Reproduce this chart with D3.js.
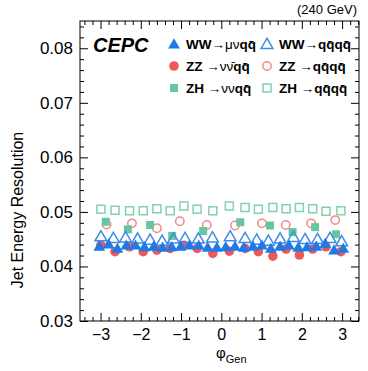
<!DOCTYPE html>
<html><head><meta charset="utf-8">
<script src="https://cdn.jsdelivr.net/npm/d3@7"></script>
<style>
html,body{margin:0;padding:0;background:#fff;}
text{font-family:"Liberation Sans",Arial,Helvetica,sans-serif;}
</style>
</head><body>
<svg id="c" width="368" height="371"></svg>
<script>
// ---- data ----
const xTicks = [-3, -2, -1, 0, 1, 2, 3];
const yTicks = [0.03, 0.04, 0.05, 0.06, 0.07, 0.08];

// WW -> mu nu q q (filled blue triangles), 28 points
const wwLepPhi = [-3.03,-2.80,-2.58,-2.36,-2.13,-1.91,-1.68,-1.46,-1.23,-1.01,-0.79,-0.56,-0.34,-0.11,0.11,0.34,0.56,0.79,1.01,1.23,1.46,1.68,1.91,2.13,2.36,2.58,2.80,3.03];
const wwLepRes = [0.0437,0.0441,0.0433,0.0439,0.0439,0.0436,0.0437,0.0435,0.0436,0.0437,0.0439,0.0439,0.0435,0.0435,0.0436,0.0437,0.0435,0.0437,0.0439,0.0433,0.0437,0.0439,0.0435,0.0436,0.0437,0.0442,0.0430,0.0433];

// WW -> qqqq (open blue triangles), 20 points
const wwHadPhi = [-2.99,-2.68,-2.38,-2.08,-1.77,-1.47,-1.19,-0.90,-0.57,-0.22,0.22,0.59,0.88,1.17,1.46,1.79,2.08,2.39,2.70,2.99];
const wwHadRes = [0.0455,0.0452,0.0453,0.0451,0.0449,0.0447,0.0451,0.0452,0.0451,0.0453,0.0455,0.0452,0.0449,0.0447,0.0451,0.0454,0.0450,0.0450,0.0452,0.0446];

// ZZ -> nu nubar q q (filled red circles), 18 points
const zzNuPhi = [-2.99,-2.64,-2.28,-1.94,-1.60,-1.27,-0.93,-0.60,-0.21,0.20,0.59,0.92,1.28,1.61,1.94,2.27,2.60,2.97];
const zzNuRes = [0.0439,0.0427,0.0436,0.0427,0.0430,0.0433,0.0439,0.0433,0.0424,0.0428,0.0433,0.0427,0.0419,0.0432,0.0421,0.0432,0.0436,0.0427];

// ZZ -> qqqq (open red circles), 10 points
const zzHadPhi = [-2.85,-2.22,-1.60,-1.03,-0.36,0.34,1.01,1.60,2.23,2.83];
const zzHadRes = [0.0477,0.0479,0.0470,0.0483,0.0476,0.0475,0.0479,0.0476,0.0479,0.0485];

// ZH -> nu nu q q (filled green squares), 10 points
const zhNuPhi = [-2.87,-2.32,-1.77,-1.22,-0.45,0.47,1.21,1.77,2.33,2.85];
const zhNuRes = [0.0482,0.0468,0.0476,0.0456,0.0465,0.0481,0.0475,0.0463,0.0472,0.0459];

// ZH -> qqqq (open green squares), 18 points
const zhHadPhi = [-2.99,-2.64,-2.28,-1.94,-1.60,-1.27,-0.93,-0.60,-0.21,0.20,0.59,0.92,1.28,1.61,1.94,2.27,2.60,2.97];
const zhHadRes = [0.0505,0.0503,0.0502,0.0502,0.0506,0.0502,0.0511,0.0505,0.0502,0.0511,0.0508,0.0505,0.0508,0.0506,0.0508,0.0506,0.0501,0.0502];

// ---- layout ----
const L = 80, R = 359, T = 21, B = 321;
const svg = d3.select("#c");
svg.append("rect").attr("width",368).attr("height",371).attr("fill","#fff");

const x = d3.scaleLinear().domain([-3.51, 3.42]).range([L, R]);
const y = d3.scaleLinear().domain([0.03, 0.085]).range([B, T]);

const blue = "#1f7ae6", blueO = "#3d8ce9";
const red = "#ef5858", redO = "#f28888";
const green = "#66c6a0", greenO = "#82d0b1";

// frame
svg.append("rect").attr("x",L).attr("y",T).attr("width",R-L).attr("height",B-T)
  .attr("fill","none").attr("stroke","#000").attr("stroke-width",1);

const xMinor = d3.range(-3.4, 3.41, 0.2).map(v => +v.toFixed(2)).filter(v => Math.abs(v - Math.round(v)) > 1e-6);
const yMinor = d3.range(0.032, 0.0851, 0.002).map(v => +v.toFixed(4)).filter(v => Math.abs(v*100 - Math.round(v*100)) > 1e-6);

function addAxis(axisFn, scale, ticks, size, tx, ty, labels){
  const g = svg.append("g").attr("transform",`translate(${tx},${ty})`)
    .call(axisFn(scale).tickValues(ticks).tickSizeInner(size).tickSizeOuter(0)
      .tickFormat(labels ? null : ""));
  g.select(".domain").remove();
  g.selectAll(".tick line").attr("stroke","#000").attr("stroke-width",1);
  return g;
}
const gxB = addAxis(d3.axisBottom, x, xTicks, -8, 0, B, true);
gxB.selectAll("text").attr("y", 8).attr("dy","0.71em").attr("font-size",16).attr("fill","#000")
  .text(d => d < 0 ? "\u2212" + Math.abs(d) : d);
addAxis(d3.axisBottom, x, xMinor, -4, 0, B, false);
addAxis(d3.axisTop, x, xTicks, -8, 0, T, false);
addAxis(d3.axisTop, x, xMinor, -4, 0, T, false);

const gyL = addAxis(d3.axisLeft, y, yTicks, -8, L, 0, true);
gyL.selectAll("text").attr("x", -7).attr("font-size",17).attr("fill","#000")
  .text(d => d3.format(".2f")(d));
addAxis(d3.axisLeft, y, yMinor, -4, L, 0, false);
addAxis(d3.axisRight, y, yTicks, -8, R, 0, false);
addAxis(d3.axisRight, y, yMinor, -4, R, 0, false);

// axis titles
svg.append("text").attr("transform","translate(23,210) rotate(-90)")
  .attr("text-anchor","middle").attr("font-size",16).attr("fill","#000").text("Jet Energy Resolution");
const xt = svg.append("text").attr("x",216).attr("y",358).attr("font-size",15).attr("fill","#000");
xt.append("tspan").text("\u03c6");
xt.append("tspan").attr("dy",5).attr("font-size",11).text("Gen");

svg.append("text").attr("x",357).attr("y",14).attr("text-anchor","end")
  .attr("font-size",13).attr("fill","#000").text("(240 GeV)");
svg.append("text").attr("x",93).attr("y",52).attr("font-size",20).attr("font-weight","bold")
  .attr("font-style","italic").attr("fill","#000").text("CEPC");

// marker generators
const tri = d3.symbol().type(d3.symbolTriangle).size(60);
const sq = d3.symbol().type(d3.symbolSquare).size(64);
const zip = (a,b) => a.map((v,i) => [v, b[i]]);

function drawSeries(data, kind, fill, stroke){
  const g = svg.append("g");
  if (kind === "circle") {
    g.selectAll("circle").data(data).join("circle")
      .attr("cx", d => x(d[0])).attr("cy", d => y(d[1])).attr("r", fill === "none" ? 4.2 : 4.8)
      .attr("fill", fill).attr("stroke", stroke).attr("stroke-width", fill === "none" ? 1.5 : 0);
  } else {
    const gen = kind === "tri" ? tri : sq;
    g.selectAll("path").data(data).join("path")
      .attr("transform", d => `translate(${x(d[0])},${y(d[1]) + (kind==="tri"?1:0)})`)
      .attr("d", gen).attr("fill", fill).attr("stroke", stroke)
      .attr("stroke-width", fill === "none" ? 1.5 : 0);
  }
}
drawSeries(zip(zhHadPhi, zhHadRes), "sq", "none", greenO);
drawSeries(zip(zzHadPhi, zzHadRes), "circle", "none", redO);
drawSeries(zip(zhNuPhi, zhNuRes), "sq", green, "none");
drawSeries(zip(zzNuPhi, zzNuRes), "circle", red, "none");
drawSeries(zip(wwHadPhi, wwHadRes), "tri", "none", blueO);
drawSeries(zip(wwLepPhi, wwLepRes), "tri", blue, "none");

// legend
const legend = [
  {col:0,row:0,kind:"tri",fill:blue,stroke:"none",parts:[["WW","b"],["\u2192",""],["\u03bc\u03bd",""],["qq\u0304","b"]]},
  {col:1,row:0,kind:"tri",fill:"none",stroke:blueO,parts:[["WW","b"],["\u2192",""],["qq\u0304qq\u0304","b"]]},
  {col:0,row:1,kind:"circle",fill:red,stroke:"none",parts:[["ZZ ","b"],["\u2192\u03bd\u03bd\u0304",""],["qq\u0304","b"]]},
  {col:1,row:1,kind:"circle",fill:"none",stroke:redO,parts:[["ZZ ","b"],["\u2192",""],["qq\u0304qq\u0304","b"]]},
  {col:0,row:2,kind:"sq",fill:green,stroke:"none",parts:[["ZH ","b"],["\u2192\u03bd\u03bd",""],["qq\u0304","b"]]},
  {col:1,row:2,kind:"sq",fill:"none",stroke:greenO,parts:[["ZH ","b"],["\u2192",""],["qq\u0304qq\u0304","b"]]}
];
const colX = [174, 267], rowY = [44, 66, 88];
legend.forEach(e => {
  const mx = colX[e.col], my = rowY[e.row];
  if (e.kind === "circle") {
    svg.append("circle").attr("cx",mx).attr("cy",my).attr("r", e.fill==="none"?4.2:4.8)
      .attr("fill",e.fill).attr("stroke",e.stroke).attr("stroke-width",e.fill==="none"?1.5:0);
  } else {
    svg.append("path").attr("transform",`translate(${mx},${my + (e.kind==="tri"?1:0)})`)
      .attr("d", e.kind==="tri"?tri:sq).attr("fill",e.fill).attr("stroke",e.stroke)
      .attr("stroke-width",e.fill==="none"?1.5:0);
  }
  const t = svg.append("text").attr("x",mx+12).attr("y",my+5).attr("font-size",13.5).attr("fill","#000");
  e.parts.forEach(p => t.append("tspan").attr("font-weight", p[1]==="b"?"bold":"normal").text(p[0]));
});
</script>
</body></html>
